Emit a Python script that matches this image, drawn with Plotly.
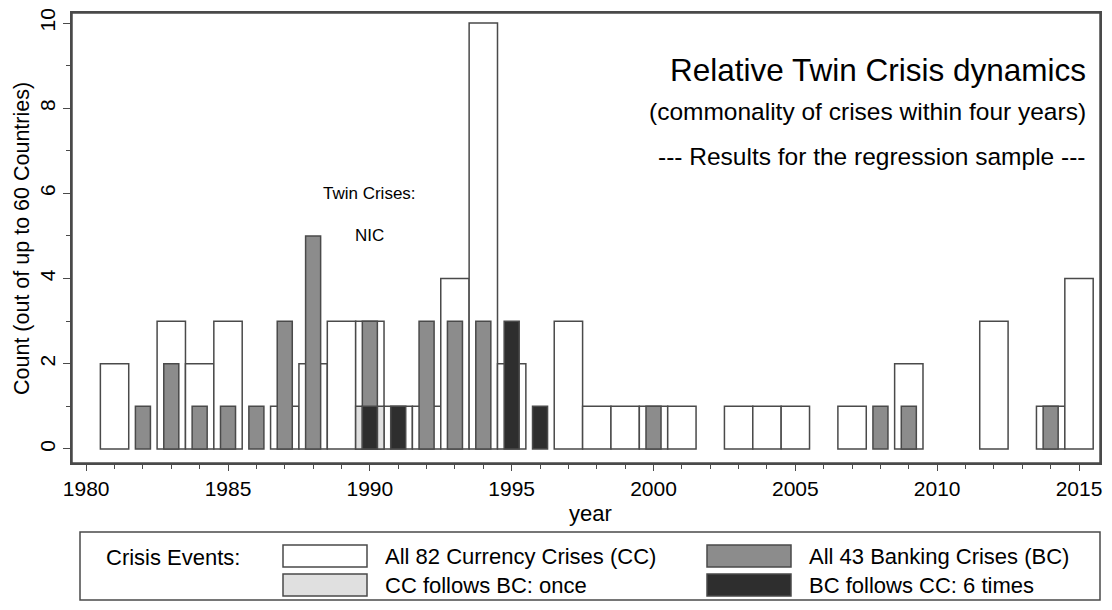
import plotly.graph_objects as go

# --- data ---
cc_years = [1981, 1983, 1984, 1985, 1987, 1988, 1989, 1990, 1991, 1992, 1993, 1994,
            1995, 1997, 1998, 1999, 2000, 2001, 2003, 2004, 2005, 2007, 2009, 2012,
            2014, 2015]
cc_counts = [2, 3, 2, 3, 1, 2, 3, 3, 1, 1, 4, 10,
             2, 3, 1, 1, 1, 1, 1, 1, 1, 1, 2, 3,
             1, 4]

bc_years = [1982, 1983, 1984, 1985, 1986, 1987, 1988, 1990, 1992, 1993, 1994, 2000,
            2008, 2009, 2014]
bc_counts = [1, 2, 1, 1, 1, 3, 5, 3, 3, 3, 3, 1,
             1, 1, 1]

cc_after_bc_years = [1990]
cc_after_bc_counts = [1]

bc_after_cc_years = [1990, 1991, 1995, 1996]
bc_after_cc_counts = [1, 1, 3, 1]

legend_labels = ["All 82 Currency Crises (CC)", "All 43 Banking Crises (BC)",
                 "CC follows BC: once", "BC follows CC: 6 times"]

FONT = "Liberation Sans, Arial, Helvetica, sans-serif"
EDGE = "#4a4a4a"
C_WHITE, C_GRAY, C_LIGHT, C_DARK = "white", "#8c8c8c", "#e0e0e0", "#2e2e2e"

# the page body has an 8px margin on every side, so the figure is shrunk to
# fit inside it; positions below are given in screen pixels
OFF = 8
W, H = 1112 - 2 * OFF, 610 - 2 * OFF
L, R, T, B = 72, 1100, 13, 463  # plot frame in screen pixels


def px(x):
    return (x - L) / (R - L)


def py(y):
    return (B - y) / (B - T)


def text(x, y, s, size, anchor="left", angle=0):
    fig.add_annotation(x=px(x), y=py(y), xref="paper", yref="paper", text=s, showarrow=False,
                       xanchor=anchor, yanchor="middle", textangle=angle,
                       font=dict(size=size, color="black", family=FONT))


fig = go.Figure()
fig.add_trace(go.Bar(x=cc_years, y=cc_counts, width=1.0, marker=dict(color=C_WHITE, line=dict(color=EDGE, width=1.5))))
fig.add_trace(go.Bar(x=cc_after_bc_years, y=cc_after_bc_counts, width=1.0,
                     marker=dict(color=C_LIGHT, line=dict(color=EDGE, width=1.5))))
fig.add_trace(go.Bar(x=bc_years, y=bc_counts, width=0.53, marker=dict(color=C_GRAY, line=dict(color=EDGE, width=1.5))))
fig.add_trace(go.Bar(x=bc_after_cc_years, y=bc_after_cc_counts, width=0.53,
                     marker=dict(color=C_DARK, line=dict(color=EDGE, width=1.5))))

# plot region frame
fig.add_shape(type="rect", xref="paper", yref="paper", x0=0, x1=1, y0=0, y1=1,
              line=dict(color=EDGE, width=1.5))

# titles inside the plot
text(1088, 70, "Relative Twin Crisis dynamics", 31.5, "right")
text(1088, 112, "(commonality of crises within four years)", 24.5, "right")
text(1088, 157, "--- Results for the regression sample ---", 24.5, "right")
fig.add_annotation(x=1990, y=6, text="Twin Crises:", showarrow=False,
                   font=dict(size=17, color="black", family=FONT))
fig.add_annotation(x=1990, y=5, text="NIC", showarrow=False,
                   font=dict(size=17, color="black", family=FONT))

# axis titles
text(22, 239, "Count (out of up to 60 Countries)", 21.5, "center", -90)
text(590, 513, "year", 22, "center")

# legend box drawn by hand (Stata style)
fig.add_shape(type="rect", xref="paper", yref="paper", x0=px(80), x1=px(1100), y0=py(600), y1=py(532),
              line=dict(color=EDGE, width=1.5), fillcolor="white")
text(104, 557, "Crisis Events:", 22)
swatches = [(283, 545, C_WHITE), (707, 545, C_GRAY), (283, 574, C_LIGHT), (707, 574, C_DARK)]
for (sx, sy, col), lab in zip(swatches, legend_labels):
    fig.add_shape(type="rect", xref="paper", yref="paper", x0=px(sx), x1=px(sx + 84), y0=py(sy + 22), y1=py(sy),
                  line=dict(color=EDGE, width=1.5), fillcolor=col)
    text(sx + 100, sy + 11, lab, 22)

fig.update_layout(
    width=W, height=H, barmode="overlay", showlegend=False,
    paper_bgcolor="white", plot_bgcolor="white",
    margin=dict(l=L - OFF, r=(W + OFF) - R, t=T - OFF, b=(H + OFF) - B),
    font=dict(family=FONT, color="black", size=21),
)
fig.update_xaxes(range=[1979.5, 2015.74], tick0=1980, dtick=5, ticks="outside", ticklen=6, tickcolor=EDGE,
                 minor=dict(dtick=1, ticks="outside", ticklen=4, tickcolor=EDGE), automargin=False,
                 showgrid=False, zeroline=False, showline=True, mirror=True, linecolor=EDGE, linewidth=1.5,
                 tickfont=dict(size=21), ticklabeloverflow="allow")
fig.update_yaxes(range=[-0.33, 10.235], tick0=0, dtick=2, ticks="outside", ticklen=7, tickcolor=EDGE,
                 minor=dict(dtick=1, ticks="outside", ticklen=4, tickcolor=EDGE), tickangle=-90, automargin=False,
                 showgrid=False, zeroline=False, showline=True, mirror=True, linecolor=EDGE, linewidth=1.5,
                 tickfont=dict(size=21), ticklabeloverflow="allow")

fig.write_html("out.html")
